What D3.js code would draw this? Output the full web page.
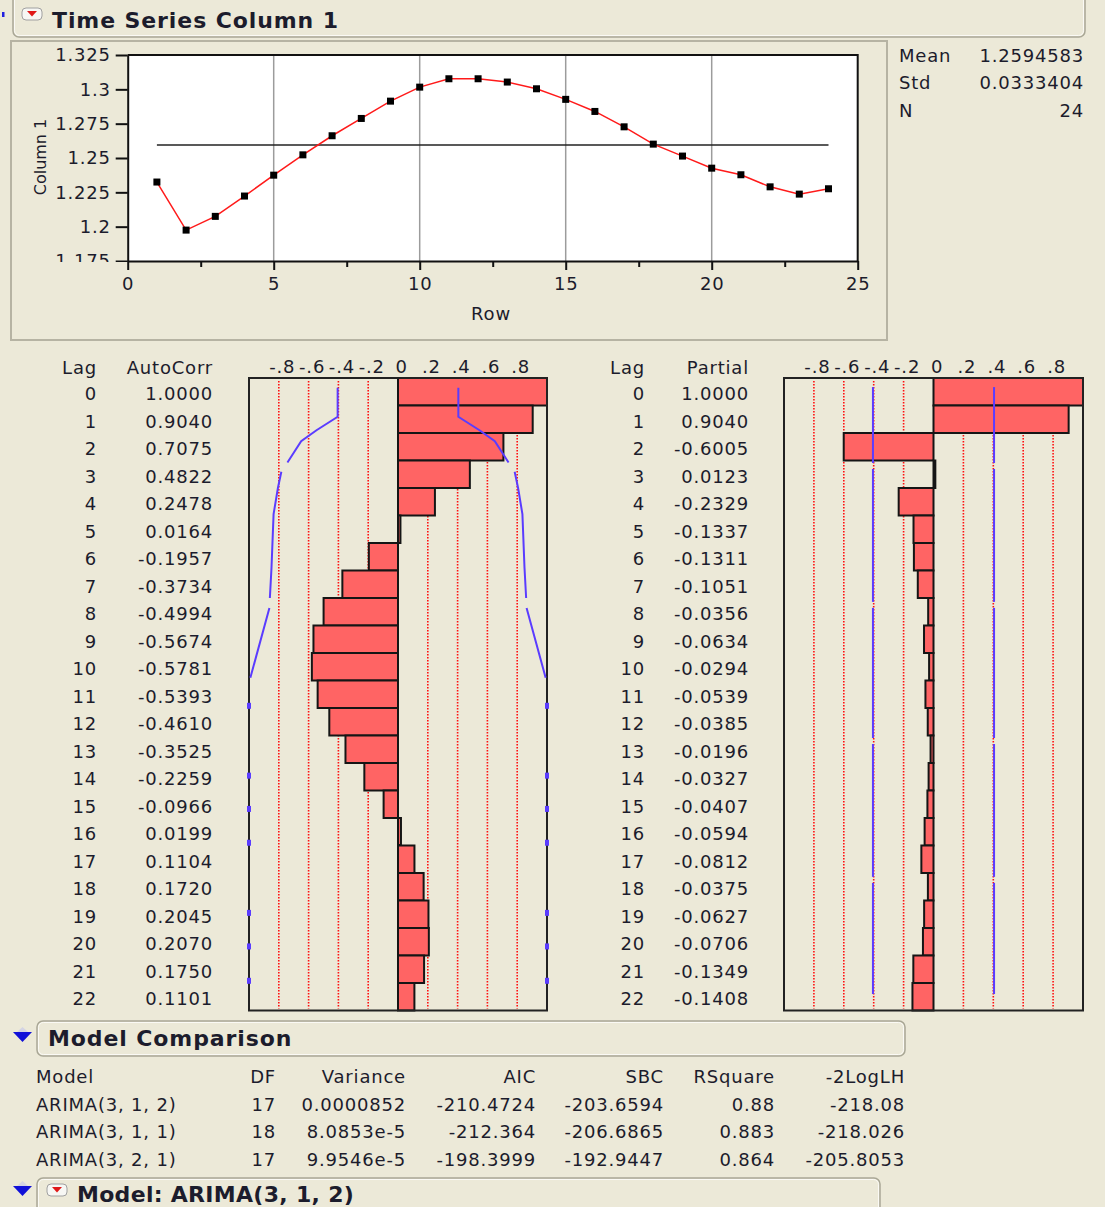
<!DOCTYPE html>
<html lang='en'>
<head>
	<meta charset='utf-8'>
	<title>Time Series Column 1</title>
	<script src="https://d3js.org/d3.v7.min.js"></script>
	<style>
		body{margin:0;background:#ece9d8;}
		svg{display:block;font-family:"DejaVu Sans",Verdana,sans-serif;}
	</style>
</head>
<body>
<div id='report'></div>
<script type='text/javascript'>
	// values
	const rows = d3.range(1,25)
	const column1 = [1.2325,1.1975,1.2075,1.2223,1.2375,1.2523,1.2662,1.2788,1.2914,1.3016,1.3077,1.3077,
					 1.3053,1.3004,1.2927,1.2839,1.2727,1.2601,1.2514,1.2426,1.2378,1.2290,1.2237,1.2276]
	const yTicks = [1.175,1.2,1.225,1.25,1.275,1.3,1.325]
	const xTicks = [0,5,10,15,20,25]
	const xMinorTicks = [2.5,7.5,12.5,17.5,22.5]
	const statNames = ["Mean","Std","N"]
	const statValues = ["1.2594583","0.0333404","24"]

	const lags = d3.range(0,23)
	const autoCorr = [1.0000,0.9040,0.7075,0.4822,0.2478,0.0164,-0.1957,-0.3734,-0.4994,-0.5674,-0.5781,-0.5393,
					  -0.4610,-0.3525,-0.2259,-0.0966,0.0199,0.1104,0.1720,0.2045,0.2070,0.1750,0.1101]
	const partial = [1.0000,0.9040,-0.6005,0.0123,-0.2329,-0.1337,-0.1311,-0.1051,-0.0356,-0.0634,-0.0294,-0.0539,
					 -0.0385,-0.0196,-0.0327,-0.0407,-0.0594,-0.0812,-0.0375,-0.0627,-0.0706,-0.1349,-0.1408]
	const corrTicks = [-.8,-.6,-.4,-.2,0,.2,.4,.6,.8]
	const corrTickLabels = ["-.8","-.6","-.4","-.2","0",".2",".4",".6",".8"]
	// 2 std err curve of AutoCorr, position in rows (null = break in the line)
	const acfBandRow = [0.35,1.41,1.9,2.3,3.07,null,3.41,4.0,4.95,6.9,8.0,null,8.36,10.9]
	const acfBandLimit = [0.405,0.405,0.547,0.65,0.742,null,0.783,0.806,0.835,0.849,0.86,null,0.863,0.991]
	const acfEdgeMarks = [11.92,14.46,15.67,16.9,19.45,20.67,21.92]
	const pacfLimit = 0.405
	const pacfBandBreaks = [0.33,3.2,8.25,13.2,18.25,22.4]

	const modelCols = ["Model","DF","Variance","AIC","SBC","RSquare","-2LogLH"]
	const modelNames = ["ARIMA(3, 1, 2)","ARIMA(3, 1, 1)","ARIMA(3, 2, 1)"]
	const modelDF = ["17","18","17"]
	const modelVariance = ["0.0000852","8.0853e-5","9.9546e-5"]
	const modelAIC = ["-210.4724","-212.364","-198.3999"]
	const modelSBC = ["-203.6594","-206.6865","-192.9447"]
	const modelRSquare = ["0.88","0.883","0.864"]
	const modelLogLH = ["-218.08","-218.026","-205.8053"]

	const ink = "#1c1c2c"
	const barFill = "#ff6464"
	const blue = "#5a3cff"

	let svg = d3.select("#report")
				.append("svg")
					.attr("width",1105)
					.attr("height",1207)
					.style("font-size","18px")
					.style("letter-spacing","0.8px")
					.attr("fill",ink)

	svg.append("rect").attr("width",1105).attr("height",1207).attr("fill","#ece9d8")

	//outline header boxes and icons
	function headerBox(x,y,w,h){
		svg.append("rect").attr("x",x).attr("y",y).attr("width",w).attr("height",h).attr("rx",6)
			.attr("fill","#ece9d8").attr("stroke","#a9a796").attr("stroke-width",1.5)
		svg.append("rect").attr("x",x+1.5).attr("y",y+1.5).attr("width",w-3).attr("height",h-3).attr("rx",5)
			.attr("fill","none").attr("stroke","#fbfaf5").attr("stroke-width",1)
	}
	function redButton(x,y){
		svg.append("rect").attr("x",x).attr("y",y).attr("width",20).attr("height",12).attr("rx",4)
			.attr("fill","#f7f7f4").attr("stroke","#a0a0a0")
		svg.append("path").attr("d",`M${x+5},${y+3}L${x+15},${y+3}L${x+10},${y+8.5}Z`).attr("fill","#e01818")
	}
	function blueTriangle(x,y){
		svg.append("path").attr("d",`M${x+4},${y}L${x+15},${y}L${x+9.5},${y-5}Z`).attr("fill","#d4d4e4")
		svg.append("path").attr("d",`M${x},${y}L${x+19},${y}L${x+9.5},${y+10}Z`).attr("fill","#1010d8")
	}

	headerBox(13,-12,1072,49)
	svg.append("rect").attr("x",2).attr("y",12).attr("width",2.5).attr("height",5).attr("fill","#2020e0")
	redButton(22,8)
	svg.append("text").attr("x",52).attr("y",20).attr("dominant-baseline","central")
		.style("font-size","22px").style("font-weight","bold").style("letter-spacing","0.9px")
		.text("Time Series Column 1")

	//time series frame
	svg.append("rect").attr("x",11).attr("y",41).attr("width",876).attr("height",299)
		.attr("fill","none").attr("stroke","#b6b3a3").attr("stroke-width",2)

	let x = d3.scaleLinear().domain([0,25]).range([127.7,857.7])
	let y = d3.scaleLinear().domain([1.175,1.325]).range([261,55])

	svg.append("rect").attr("x",x(0)).attr("y",y(1.325)).attr("width",x(25)-x(0)).attr("height",y(1.175)-y(1.325))
		.attr("fill","#fff")

	svg.append("g").selectAll("line").data([5,10,15,20]).enter().append("line")
		.attr("x1",d=>x(d)).attr("x2",d=>x(d)).attr("y1",y(1.325)).attr("y2",y(1.175))
		.attr("stroke","#9c9c9c").attr("stroke-width",1.5)

	//lowest y label is cut by the axis region, as in the report
	svg.append("clipPath").attr("id","yclip").append("rect").attr("x",0).attr("y",0).attr("width",140).attr("height",y(1.175)+1)

	let yAxis = svg.append("g")
		.attr("clip-path","url(#yclip)")
		.append("g")
		.attr("transform",`translate(${x(0)},0)`)
		.call(d3.axisLeft(y).tickValues(yTicks).tickFormat(d3.format(".3~f")).tickSize(12).tickSizeOuter(0).tickPadding(5))
	let xAxis = svg.append("g")
		.attr("transform",`translate(0,${y(1.175)})`)
		.call(d3.axisBottom(x).tickValues(xTicks).tickSize(9).tickSizeOuter(0).tickPadding(7))
	svg.append("g")
		.attr("transform",`translate(0,${y(1.175)})`)
		.call(d3.axisBottom(x).tickValues(xMinorTicks).tickSize(6).tickFormat(""))
		.select(".domain").remove()
	;[yAxis,xAxis].forEach(function(a){
		a.attr("font-size",18).attr("font-family",null)
		a.selectAll("text").attr("fill",ink)
	})
	svg.selectAll(".tick line, .domain").attr("stroke","#111").attr("stroke-width",2)

	svg.append("path")
		.attr("d",`M${x(0)},${y(1.325)}H${x(25)}V${y(1.175)}`)
		.attr("fill","none").attr("stroke","#111").attr("stroke-width",2)

	svg.append("line")
		.attr("x1",x(rows[0])).attr("x2",x(rows[rows.length-1]))
		.attr("y1",y(+statValues[0])).attr("y2",y(+statValues[0]))
		.attr("stroke","#222").attr("stroke-width",1.6)

	svg.append("path")
		.datum(column1)
		.attr("d",d3.line().x((d,i)=>x(rows[i])).y(d=>y(d)))
		.attr("fill","none").attr("stroke","#ff1a1a").attr("stroke-width",1.5)

	svg.append("g").selectAll("rect").data(column1).enter().append("rect")
		.attr("x",(d,i)=>x(rows[i])-3.5).attr("y",d=>y(d)-3.5)
		.attr("width",7).attr("height",7).attr("fill","#000")

	svg.append("text").attr("transform","translate(40,157) rotate(-90)")
		.attr("text-anchor","middle").attr("dominant-baseline","central")
		.style("font-size","16px").style("letter-spacing","0px").text("Column 1")
	svg.append("text").attr("x",491).attr("y",313).attr("text-anchor","middle").attr("dominant-baseline","central")
		.text("Row")

	statNames.forEach(function(s,i){
		svg.append("text").attr("x",899).attr("y",55+27.5*i).attr("dominant-baseline","central").text(s)
		svg.append("text").attr("x",1084).attr("y",55+27.5*i).attr("text-anchor","end").attr("dominant-baseline","central").text(statValues[i])
	})

	//correlation panels
	let rowY = d3.scaleLinear().domain([0,23]).range([378,1010.5])
	let acfX = d3.scaleLinear().domain([-1,1]).range([249,547])
	let pacfX = d3.scaleLinear().domain([-1,1]).range([784,1083])
	let fmt = d3.formatLocale({decimal:".",thousands:",",grouping:[3],currency:["",""],minus:"-"}).format(".4f")

	function corrPanel(cx,values,lagRight,valRight,title){
		svg.append("text").attr("x",lagRight).attr("y",367).attr("text-anchor","end").attr("dominant-baseline","central").text("Lag")
		svg.append("text").attr("x",valRight).attr("y",367).attr("text-anchor","end").attr("dominant-baseline","central").text(title)

		let t = svg.append("g")
		lags.forEach(function(k,i){
			t.append("text").attr("x",lagRight).attr("y",rowY(k+0.5)+2).attr("text-anchor","end").attr("dominant-baseline","central").text(k)
			t.append("text").attr("x",valRight).attr("y",rowY(k+0.5)+2).attr("text-anchor","end").attr("dominant-baseline","central").text(fmt(values[i]))
		})

		let ax = svg.append("g")
			.attr("transform","translate(3,376)")
			.call(d3.axisTop(cx).tickValues(corrTicks).tickFormat((d,i)=>corrTickLabels[i]).tickSize(0).tickPadding(3))
		ax.select(".domain").remove()
		ax.attr("font-size",18).attr("font-family",null)
		ax.selectAll("text").attr("fill",ink)

		svg.append("g").selectAll("line").data(corrTicks.filter(d=>d!=0)).enter().append("line")
			.attr("x1",d=>cx(d)).attr("x2",d=>cx(d)).attr("y1",rowY(0)+3).attr("y2",rowY(23)-2)
			.attr("stroke","#ff1010").attr("stroke-width",1.6).attr("stroke-dasharray","1.6,1.4")

		svg.append("g").selectAll("rect").data(values).enter().append("rect")
			.attr("x",d=>Math.min(cx(0),cx(d)))
			.attr("width",d=>Math.abs(cx(d)-cx(0)))
			.attr("y",(d,i)=>rowY(lags[i]))
			.attr("height",rowY(1)-rowY(0))
			.attr("fill",barFill).attr("stroke","#151515").attr("stroke-width",2)

		svg.append("rect").attr("x",cx(-1)).attr("y",rowY(0)).attr("width",cx(1)-cx(-1)).attr("height",rowY(23)-rowY(0))
			.attr("fill","none").attr("stroke","#222").attr("stroke-width",2)
	}

	corrPanel(acfX,autoCorr,97,213,"AutoCorr")
	corrPanel(pacfX,partial,645,749,"Partial")

	//confidence curve on the AutoCorr panel
	let band = acfBandRow.map((r,i)=>({r:r,v:acfBandLimit[i]}))
	;[-1,1].forEach(function(sign){
		svg.append("path").datum(band)
			.attr("d",d3.line().defined(d=>d.r!=null).x(d=>acfX(sign*d.v)).y(d=>rowY(d.r)))
			.attr("fill","none").attr("stroke",blue).attr("stroke-width",2)
		svg.append("g").selectAll("rect").data(acfEdgeMarks).enter().append("rect")
			.attr("x",acfX(sign)-2).attr("y",d=>rowY(d)-3).attr("width",4).attr("height",6).attr("fill",blue)
	})

	//limits on the Partial panel
	;[-pacfLimit,pacfLimit].forEach(function(v){
		svg.append("g").selectAll("line").data(d3.pairs(pacfBandBreaks)).enter().append("line")
			.attr("x1",pacfX(v)).attr("x2",pacfX(v))
			.attr("y1",(d,i)=>rowY(d[0])+(i>0?3:0))
			.attr("y2",(d,i)=>rowY(d[1])-(i<pacfBandBreaks.length-2?3:0))
			.attr("stroke",blue).attr("stroke-width",2)
	})

	//model comparison
	blueTriangle(13,1032)
	headerBox(37,1021,868,35)
	svg.append("text").attr("x",48).attr("y",1038).attr("dominant-baseline","central")
		.style("font-size","22px").style("font-weight","bold").style("letter-spacing","0.9px")
		.text("Model Comparison")

	let colRight = [null,276,406,536,664,775,905]
	let table = [modelNames,modelDF,modelVariance,modelAIC,modelSBC,modelRSquare,modelLogLH]
	modelCols.forEach(function(c,j){
		let anchor = j==0 ? "start" : "end"
		let cxPos = j==0 ? 36 : colRight[j]
		svg.append("text").attr("x",cxPos).attr("y",1076).attr("text-anchor",anchor).attr("dominant-baseline","central").text(c)
		table[j].forEach(function(v,i){
			svg.append("text").attr("x",cxPos).attr("y",1104+27.5*i).attr("text-anchor",anchor).attr("dominant-baseline","central").text(v)
		})
	})

	blueTriangle(13,1186)
	headerBox(37,1178,843,45)
	redButton(47,1184)
	svg.append("text").attr("x",77).attr("y",1194).attr("dominant-baseline","central")
		.style("font-size","22px").style("font-weight","bold").style("letter-spacing","0.3px")
		.text("Model: ARIMA(3, 1, 2)")
</script>
</body>
</html>
